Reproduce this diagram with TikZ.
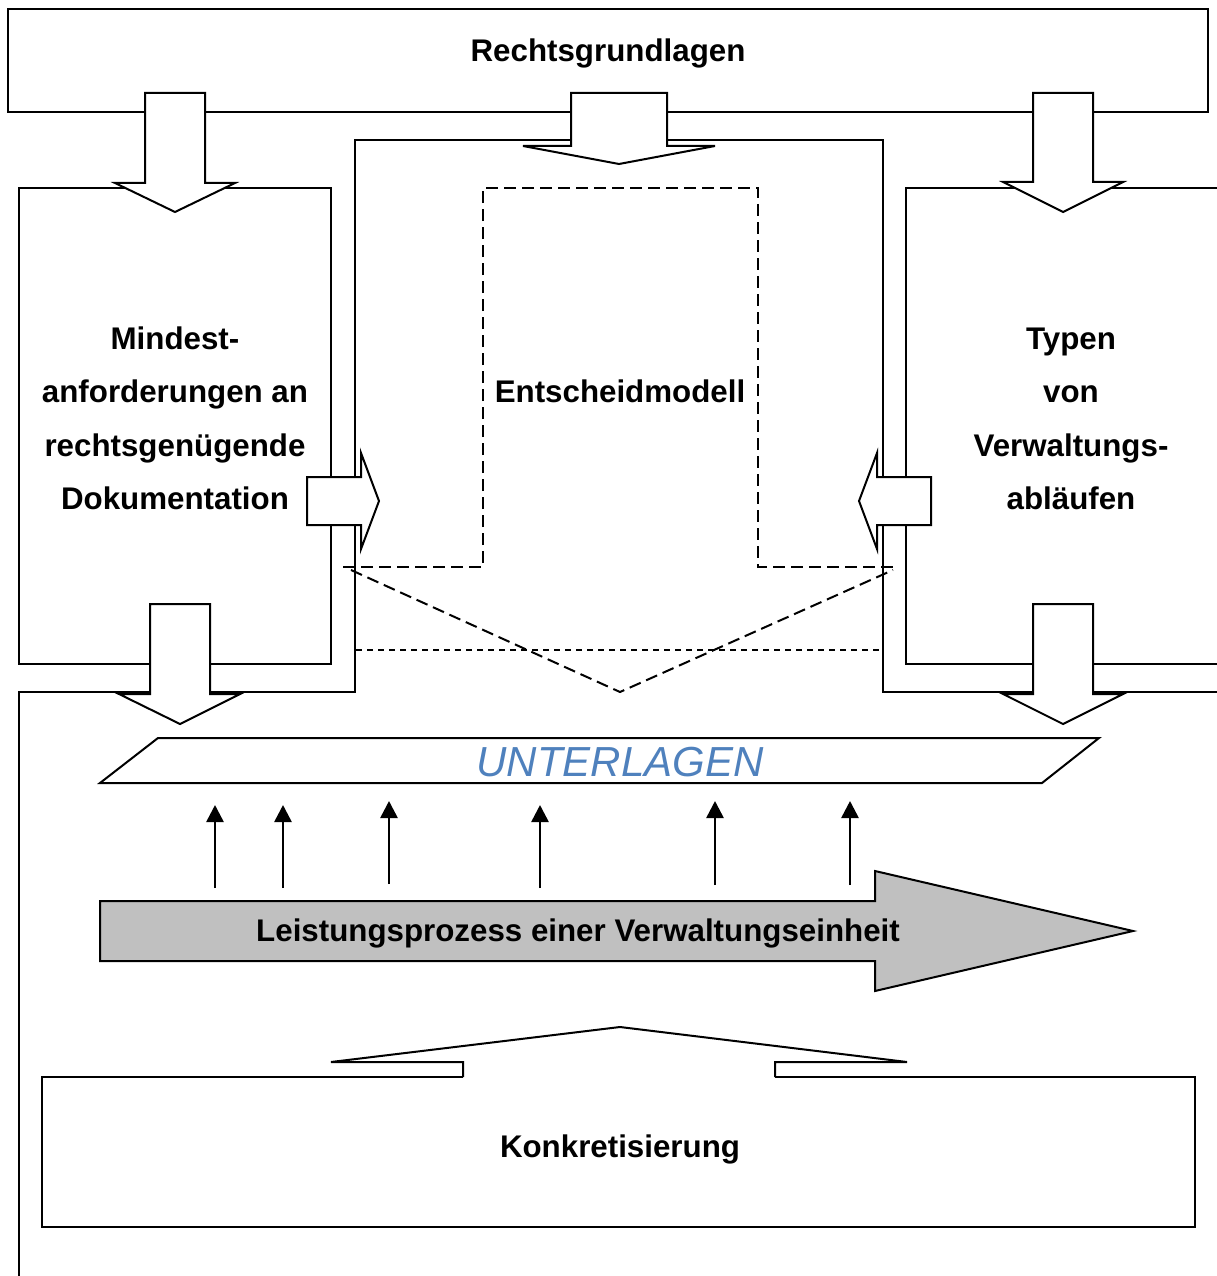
\documentclass[tikz,border=0pt]{standalone}
\usepackage{fontspec}
\setmainfont{Liberation Sans}
\usetikzlibrary{arrows.meta}
\definecolor{procgrey}{HTML}{C0C0C0}
\definecolor{docblue}{HTML}{4F81BD}
\begin{document}
\begin{tikzpicture}[x=1pt,y=-1pt,
  outline/.style={draw=black, line width=2pt, line join=miter},
  blockarrow/.style={outline, fill=white},
  modeldash/.style={draw=black, line width=2pt, dash pattern=on 12pt off 6pt},
  finedash/.style={draw=black, line width=1.6pt, dash pattern=on 6pt off 5pt},
  lbl/.style={font=\fontsize{31.3}{53.3}\selectfont\bfseries, inner sep=0pt, anchor=base},
  feed/.style={line width=2.6pt, -{Triangle[width=17pt,length=17pt]}}]

% page
\fill[white] (0,0) rectangle (1216,1276);
\useasboundingbox (0,0) rectangle (1216,1276);

% frame around the decision model
\draw[outline] (19,1280) -- (19,692) -- (355,692) -- (355,140) -- (883,140)
  -- (883,692) -- (1220,692);

% boxes
\draw[outline] (8,9) rectangle (1208,112);
\draw[outline] (19,188) rectangle (331,664);
\draw[outline] (1220,188) -- (906,188) -- (906,664) -- (1220,664);

% dashed decision model arrow
\draw[modeldash] (343,567) -- (483,567) -- (483,188) -- (758,188) -- (758,567) -- (897,567);
\draw[modeldash] (351,570) -- (620,692) -- (893,570);
\draw[finedash] (356,650) -- (882,650);

% block arrows from the legal basis
\draw[blockarrow] (145,93) -- (205,93) -- (205,183) -- (235,183) -- (175,212)
  -- (115,183) -- (145,183) -- cycle;
\draw[blockarrow] (571,93) -- (667,93) -- (667,146) -- (715,146) -- (619,164)
  -- (523,146) -- (571,146) -- cycle;
\draw[blockarrow] (1033,93) -- (1093,93) -- (1093,182) -- (1123,182) -- (1063,212)
  -- (1003,182) -- (1033,182) -- cycle;

% side arrows into the decision model
\draw[blockarrow] (307,477) -- (361,477) -- (361,453) -- (379,501) -- (361,549)
  -- (361,525) -- (307,525) -- cycle;
\draw[blockarrow] (931,477) -- (877,477) -- (877,453) -- (859,501) -- (877,549)
  -- (877,525) -- (931,525) -- cycle;

% arrows down to the documents
\draw[blockarrow] (150,604) -- (210,604) -- (210,694) -- (240,694) -- (180,724)
  -- (119,694) -- (150,694) -- cycle;
\draw[blockarrow] (1033,604) -- (1093,604) -- (1093,694) -- (1123,694) -- (1063,724)
  -- (1003,694) -- (1033,694) -- cycle;

% documents
\draw[outline, fill=white] (158,738) -- (1099,738) -- (1042,783) -- (100,783) -- cycle;

% process arrow
\draw[outline, fill=procgrey] (100,901) -- (875,901) -- (875,871) -- (1133,931)
  -- (875,991) -- (875,961) -- (100,961) -- cycle;

% process feeding the documents
\foreach \i/\xx/\yb/\yt in {1/215/888/805, 2/283/888/805, 3/389/884/801,
                            4/540/888/805, 5/715/885/801, 6/850/885/801} {
  \coordinate (fs\i) at (\xx,\yb);
  \coordinate (fe\i) at (\xx,\yt);
  \draw[feed] (fs\i) -- (fe\i);
}

% concretisation box with its upward arrow
\draw[outline] (463,1077) -- (42,1077) -- (42,1227) -- (1195,1227) -- (1195,1077) -- (775,1077);
\draw[outline, fill=white] (463,1077) -- (463,1062) -- (331,1062) -- (620,1027)
  -- (907,1062) -- (775,1062) -- (775,1077);

% labels
\node[lbl] (recht) at (608,62) {Rechtsgrundlagen};
\node[lbl] (min1) at (175,349) {Mindest-};
\node[lbl] (min2) at (175,402) {anforderungen an};
\node[lbl] (min3) at (175,456) {rechtsgenügende};
\node[lbl] (min4) at (175,509) {Dokumentation};
\node[lbl] (typ1) at (1071,349) {Typen};
\node[lbl] (typ2) at (1071,402) {von};
\node[lbl] (typ3) at (1071,456) {Verwaltungs-};
\node[lbl] (typ4) at (1071,509) {abläufen};
\node[lbl] (modell) at (620,402) {Entscheidmodell};
\node[inner sep=0pt, anchor=base, text=docblue,
      font=\fontsize{42}{50}\selectfont\itshape] (unterlagen) at (620,776) {UNTERLAGEN};
\node[lbl] (prozess) at (578,941) {Leistungsprozess einer Verwaltungseinheit};
\node[lbl] (konkret) at (620,1157) {Konkretisierung};
\end{tikzpicture}
\end{document}
